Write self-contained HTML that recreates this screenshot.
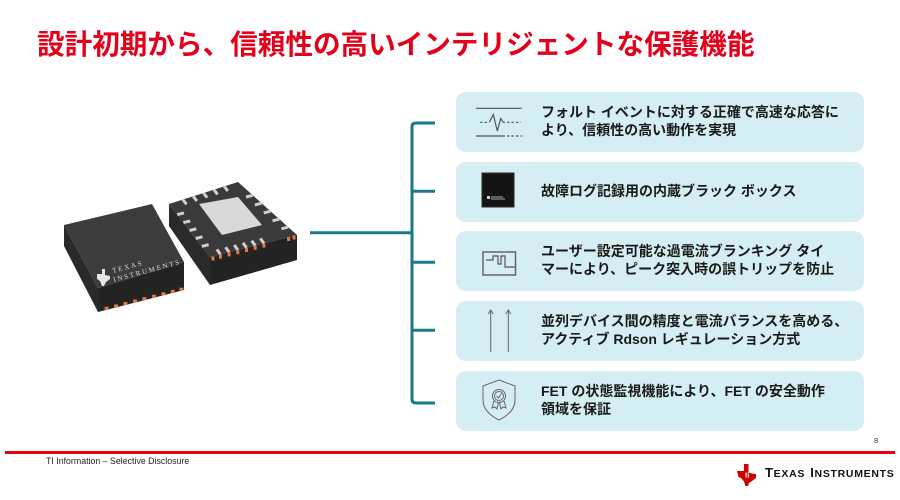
<!DOCTYPE html>
<html lang="ja">
<head>
<meta charset="utf-8">
<style>
  html,body{margin:0;padding:0;background:#fff;}
  body{width:900px;height:500px;position:relative;overflow:hidden;
       font-family:"Liberation Sans","Noto Sans CJK JP",sans-serif;}
  .title{position:absolute;left:37px;top:31px;font-size:27.6px;line-height:27.6px;
         font-weight:700;color:#e3001b;white-space:nowrap;
         font-family:"Liberation Sans","Noto Sans CJK JP",sans-serif;}
  .card{position:absolute;left:456px;width:408px;height:60px;background:#d5eef3;
        border-radius:10px;box-sizing:border-box;padding-left:85px;
        display:flex;align-items:center;}
  .card .t{font-size:14px;line-height:17.6px;font-weight:700;color:#1a1a1a;white-space:nowrap;
           font-family:"Liberation Sans","Noto Sans CJK JP",sans-serif;}
  svg.main{position:absolute;left:0;top:0;}
  .foot{position:absolute;left:46px;top:457px;font-size:8.8px;line-height:8.8px;color:#222;white-space:nowrap;
        font-family:"Liberation Sans",sans-serif;}
  .pg{position:absolute;left:874px;top:436.5px;font-size:7.7px;line-height:7.7px;color:#333;
      font-family:"Liberation Sans",sans-serif;}
  .ti{position:absolute;left:765px;top:466px;white-space:nowrap;color:#111;font-weight:700;
      font-family:"Liberation Sans",sans-serif;letter-spacing:0.7px;line-height:14px;}
  .ti .b{font-size:13px;}
  .ti .s{font-size:10.5px;}
</style>
</head>
<body>

<div class="title">設計初期から、信頼性の高いインテリジェントな保護機能</div>

<div class="card" style="top:92px;"><div class="t">フォルト イベントに対する正確で高速な応答に<br>より、信頼性の高い動作を実現</div></div>
<div class="card" style="top:162px;"><div class="t">故障ログ記録用の内蔵ブラック ボックス</div></div>
<div class="card" style="top:230.5px;"><div class="t">ユーザー設定可能な過電流ブランキング タイ<br>マーにより、ピーク突入時の誤トリップを防止</div></div>
<div class="card" style="top:301px;"><div class="t">並列デバイス間の精度と電流バランスを高める、<br>アクティブ Rdson レギュレーション方式</div></div>
<div class="card" style="top:371px;"><div class="t">FET の状態監視機能により、FET の安全動作<br>領域を保証</div></div>

<svg class="main" width="900" height="500" viewBox="0 0 900 500" xmlns="http://www.w3.org/2000/svg">
  <!-- connector bracket -->
  <g stroke="#1a7889" stroke-width="3" fill="none">
    <path d="M310,232.7 H412"/>
    <path d="M435,123 H416 Q412,123 412,127 V399 Q412,403 416,403 H435"/>
    <path d="M412,191.3 H435"/>
    <path d="M412,262.3 H435"/>
    <path d="M412,330.3 H435"/>
  </g>

  <!-- Left chip -->
  <polygon points="64,225 98,288 98,312 64,246" fill="#2a2a2a"/>
  <polygon points="98,288 184,262 184,290 98,312" fill="#232323"/>
  <polygon points="64,225 152,204 184,262 98,288" fill="#3c3c3c"/>
  <g stroke="#e8763f" stroke-width="4">
    <line x1="106.6" y1="309.8" x2="106.6" y2="306.8"/>
    <line x1="116.1" y1="307.4" x2="116.1" y2="304.4"/>
    <line x1="125.5" y1="305" x2="125.5" y2="302"/>
    <line x1="135" y1="302.5" x2="135" y2="299.5"/>
    <line x1="144.4" y1="300.1" x2="144.4" y2="297.1"/>
    <line x1="153.9" y1="297.7" x2="153.9" y2="294.7"/>
    <line x1="163.4" y1="295.3" x2="163.4" y2="292.3"/>
    <line x1="172.8" y1="292.9" x2="172.8" y2="289.9"/>
    <line x1="181.4" y1="290.7" x2="181.4" y2="287.7"/>
  </g>
  <!-- chip logo -->
  <path d="M97,274 L102,274 L102,269 L105,269 L105,275 L110,276 L110,279 L106,282 L104,286 L102,286 L100,281 L97,279 Z" fill="#e6e6e6"/>
  <text x="113" y="273" font-size="7" fill="#dcdcdc" font-family="Liberation Serif,serif" transform="rotate(-15 113 273)" textLength="30">TEXAS</text>
  <text x="114" y="282" font-size="7" fill="#dcdcdc" font-family="Liberation Serif,serif" transform="rotate(-15 114 282)" textLength="68">INSTRUMENTS</text>

  <!-- Right chip -->
  <polygon points="169,204 210,257 210,285 169,226" fill="#2a2a2a"/>
  <polygon points="210,257 297,235 297,260 210,285" fill="#232323"/>
  <polygon points="169,204 238,182 297,235 210,257" fill="#3a3a3a"/>
  <polygon points="199,204 238,197 262,225 222,235" fill="#d9d9d9"/>
  <g stroke="#cfcfcf" stroke-width="3" stroke-linecap="butt">
    <!-- front edge -->
    <line x1="220.4" y1="254.4" x2="216.9" y2="249.4"/>
    <line x1="229.1" y1="252.2" x2="225.6" y2="247.2"/>
    <line x1="237.8" y1="250" x2="234.3" y2="245"/>
    <line x1="246.5" y1="247.8" x2="243" y2="242.8"/>
    <line x1="255.2" y1="245.6" x2="251.7" y2="240.6"/>
    <line x1="263.9" y1="243.4" x2="260.4" y2="238.4"/>
    <!-- right edge -->
    <line x1="288.2" y1="227.1" x2="281.4" y2="228.8"/>
    <line x1="279.3" y1="219.1" x2="272.5" y2="220.8"/>
    <line x1="270.5" y1="211.2" x2="263.7" y2="212.9"/>
    <line x1="261.6" y1="203.2" x2="254.8" y2="204.9"/>
    <line x1="252.8" y1="195.3" x2="246" y2="197"/>
    <!-- left edge -->
    <line x1="177.2" y1="214.6" x2="184" y2="212.9"/>
    <line x1="183.4" y1="222.6" x2="190.2" y2="220.9"/>
    <line x1="189.5" y1="230.5" x2="196.3" y2="228.8"/>
    <line x1="195.7" y1="238.5" x2="202.5" y2="236.8"/>
    <line x1="201.8" y1="246.4" x2="208.6" y2="244.7"/>
    <!-- back edge -->
    <line x1="182.8" y1="199.6" x2="186.5" y2="204.3"/>
    <line x1="193.2" y1="196.3" x2="196.9" y2="201"/>
    <line x1="203.5" y1="193" x2="207.2" y2="197.7"/>
    <line x1="213.9" y1="189.7" x2="217.6" y2="194.4"/>
    <line x1="224.2" y1="186.4" x2="227.9" y2="191.1"/>
  </g>
  <g stroke="#e8763f" stroke-width="3">
    <line x1="220.4" y1="254.6" x2="220.4" y2="258.6"/>
    <line x1="229.1" y1="252.4" x2="229.1" y2="256.4"/>
    <line x1="237.8" y1="250.2" x2="237.8" y2="254.2"/>
    <line x1="246.5" y1="248" x2="246.5" y2="252"/>
    <line x1="255.2" y1="245.8" x2="255.2" y2="249.8"/>
    <line x1="263.9" y1="243.6" x2="263.9" y2="247.6"/>
    <line x1="288.6" y1="237" x2="288.6" y2="241"/>
    <line x1="294" y1="235.5" x2="294" y2="239.5"/>
    <line x1="213" y1="256.5" x2="213" y2="260.5"/>
  </g>

  <!-- Icon 1: waveform -->
  <g stroke="#555" stroke-width="1.2" fill="none">
    <line x1="476" y1="108.3" x2="521.7" y2="108.3"/>
    <line x1="476" y1="136" x2="505" y2="136"/>
    <line x1="507" y1="136" x2="522" y2="136" stroke-dasharray="2.5,2"/>
    <line x1="480" y1="122.3" x2="489" y2="122.3" stroke-dasharray="2.5,2"/>
    <polyline points="489.3,122.3 493.3,114.5 497.3,131 500.7,118.5 503.3,122.3 505,122.3"/>
    <line x1="507" y1="122.3" x2="521" y2="122.3" stroke-dasharray="2.5,2"/>
  </g>

  <!-- Icon 2: black chip -->
  <rect x="482" y="173" width="32" height="34" fill="#141414"/>
  <rect x="482" y="173" width="32" height="34" fill="none" stroke="#2a2a2a" stroke-width="1"/>
  <rect x="487" y="196" width="3" height="3" fill="#ccc"/>
  <rect x="491" y="196.5" width="12" height="1" fill="#aaa"/>
  <rect x="491" y="198.5" width="14" height="1" fill="#aaa"/>

  <!-- Icon 3: box with pulses -->
  <rect x="483" y="252" width="32.5" height="23" fill="none" stroke="#666" stroke-width="1.5"/>
  <polyline points="486,260 493,260 493,256 498,256 498,264 501,264 501,256 505,256 505,267 515,267" fill="none" stroke="#555" stroke-width="1.2"/>

  <!-- Icon 4: two up arrows -->
  <g stroke="#666" stroke-width="1" fill="none">
    <line x1="490.7" y1="311" x2="490.7" y2="352"/>
    <line x1="508.3" y1="311" x2="508.3" y2="352"/>
    <polyline points="488.2,314 490.7,310 493.2,314"/>
    <polyline points="505.8,314 508.3,310 510.8,314"/>
  </g>

  <!-- Icon 5: shield with rosette -->
  <g stroke="#666" stroke-width="1" fill="none">
    <path d="M499,380 L515,386 V400 C515,410 507,416 499,420 C491,416 483,410 483,400 V386 Z"/>
    <circle cx="499" cy="396" r="6.5"/>
    <circle cx="499" cy="396" r="4.5"/>
    <polyline points="496.5,396 498.5,398 501.5,393.5"/>
    <path d="M494,401 L492,408 L495,407 L497,409 L498.5,402.5"/>
    <path d="M504,401 L506,408 L503,407 L501,409 L499.5,402.5"/>
  </g>

  <!-- Footer red line -->
  <rect x="5" y="451" width="890" height="3" fill="#e8000f"/>

  <!-- TI bug -->
  <path d="M737,471 L744,471 L744,464 L748.5,464 L748.5,472.5 L752,473.5 L756,474 L756,478 L752,481 L749,483 L748,486 L745.5,486 L744,481.5 L741,478 L738.5,477 Z" fill="#cc0000"/>
  <text x="745" y="477.5" font-size="7" fill="#fff" font-weight="700" font-family="Liberation Sans,sans-serif">ti</text>
</svg>

<div class="foot">TI Information – Selective Disclosure</div>
<div class="pg">8</div>
<div class="ti"><span class="b">T</span><span class="s">EXAS</span> <span class="b">I</span><span class="s">NSTRUMENTS</span></div>

</body>
</html>
